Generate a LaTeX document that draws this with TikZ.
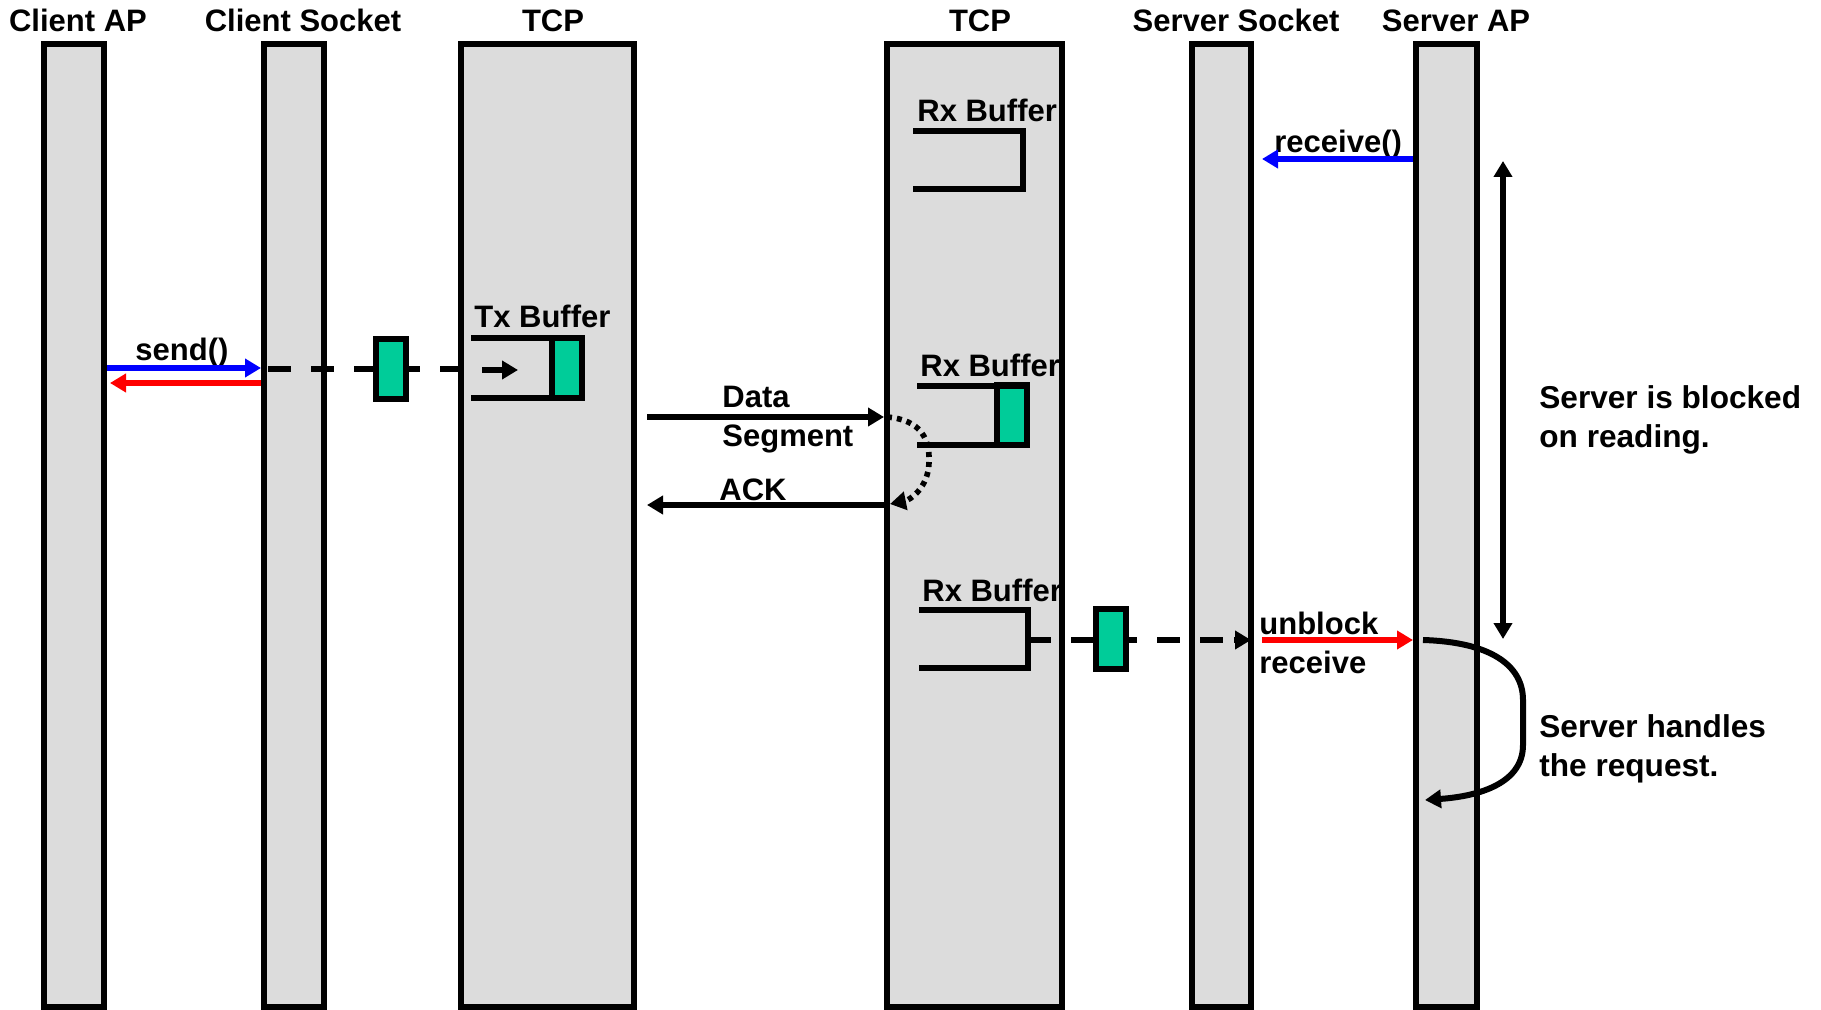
\documentclass[tikz,border=0pt]{standalone}
\usepackage{fontspec}
\setmainfont{Liberation Sans}
\usetikzlibrary{arrows.meta}
\definecolor{barfill}{RGB}{220,220,220}
\definecolor{pkt}{RGB}{0,204,153}
\definecolor{myblue}{RGB}{0,0,255}
\definecolor{myred}{RGB}{255,0,0}
\begin{document}
\begin{tikzpicture}[x=0.5pt,y=-0.5pt,
  bar/.style={draw=black,line width=3pt,fill=barfill,inner sep=0pt,minimum height=481.5pt},
  lbl/.style={font=\fontsize{15.5}{19.5}\selectfont\bfseries,inner sep=0pt,anchor=base west,align=left},
  hdr/.style={font=\fontsize{15.5}{19.5}\selectfont\bfseries,inner sep=0pt,anchor=base},
  buf/.style={line width=3pt,line join=miter},
  pktbox/.style={draw=black,fill=pkt,line width=3pt,inner sep=0pt,minimum width=15pt,minimum height=30pt},
  arr/.style={line width=2.8pt,-{Triangle[length=8pt,width=9pt]}},
  dsh/.style={line width=2.8pt,dash pattern=on 11.5pt off 10pt},
  dotarc/.style={line width=2.8pt,dash pattern=on 2.5pt off 2.5pt,-{Triangle[length=8pt,width=9pt]}},
]
\useasboundingbox (0,0) rectangle (1821,1010);

% lifelines
\node[bar,minimum width=30pt]   (cap)   at (74,525.5) {};
\node[bar,minimum width=30pt]   (csock) at (294,525.5) {};
\node[bar,minimum width=86.5pt] (tcpa)  at (547.5,525.5) {};
\node[bar,minimum width=87.5pt] (tcpb)  at (974.5,525.5) {};
\node[bar,minimum width=29.5pt] (ssock) at (1221.5,525.5) {};
\node[bar,minimum width=30.5pt] (sap)   at (1446.5,525.5) {};

% headers
\node[hdr] (hcap)   at (78,32)   {Client AP};
\node[hdr] (hcsock) at (303,32)  {Client Socket};
\node[hdr] (htcpa)  at (553,32)  {TCP};
\node[hdr] (htcpb)  at (980,32)  {TCP};
\node[hdr] (hssock) at (1236,32) {Server Socket};
\node[hdr] (hsap)   at (1456,32) {Server AP};

% buffer labels (clipped to the TCP bars)
\begin{scope}
  \clip ([shift={(3pt,-3pt)}]tcpa.north west) rectangle ([shift={(-3pt,3pt)}]tcpa.south east);
  \node[lbl] (ltx) at (474,328) {Tx Buffer};
\end{scope}
\begin{scope}
  \clip ([shift={(3pt,-3pt)}]tcpb.north west) rectangle ([shift={(-3pt,3pt)}]tcpb.south east);
  \node[lbl] (lrx1) at (917,122) {Rx Buffer};
  \node[lbl] (lrx2) at (920,377) {Rx Buffer};
  \node[lbl] (lrx3) at (922,601) {Rx Buffer};
\end{scope}

% client side: send()
\node[lbl] (lsend) at (135,361) {send()};
\draw[arr,myblue] (cap.east |- 0,368) -- (csock.west |- 0,368);
\draw[arr,myred] (csock.west |- 0,383) -- ([xshift=1.5pt]cap.east |- 0,383);

% dashed path client socket -> TCP
\coordinate (d1s) at (268,369);
\draw[dsh] (d1s) -- (tcpa.west |- d1s);
\node[pktbox] (p1) at (390.5,369) {};

% Tx buffer
\node[pktbox] (ptx) at (566.5,368) {};
\draw[buf] (471,338) -- (582,338) -- (582,398) -- (471,398);
\coordinate (txa) at (482,370);
\coordinate (txb) at (518,370);
\draw[arr] (txa) -- (txb);

% Rx buffer 1
\draw[buf] (913,131) -- (1023,131) -- (1023,189) -- (913,189);

% Rx buffer 2
\node[pktbox] (prx2) at (1012,415.5) {};
\draw[buf] (917,386) -- (1027,386) -- (1027,445) -- (917,445);

% Rx buffer 3
\draw[buf] (919,610) -- (1028,610) -- (1028,668) -- (919,668);

% data segment / ACK
\coordinate (dsa) at (647,417);
\draw[arr] (dsa) -- (tcpb.west |- dsa);
\coordinate (acka) at (647,505);
\draw[arr] (tcpb.west |- acka) -- (acka);
\node[lbl] (ldata) at (722,447) {Data\\Segment};
\node[lbl] (lack)  at (719,501) {ACK};
\coordinate (arcs) at (887,417);
\coordinate (arce) at (890,504);
\draw[dotarc] (arcs) .. controls (922,420) and (930,440) .. (929,463)
  .. controls (928,488) and (910,500) .. (arce);

% dashed path Rx buffer 3 -> server socket
\coordinate (d2s) at (1028,640);
\coordinate (d2e) at (1238,640);
\draw[dsh] (d2s) -- (d2e);
\draw[arr] ([xshift=-2pt]d2e) -- ([xshift=-1.5pt]ssock.east |- d2e);
\node[pktbox] (p2) at (1111,639) {};

% server side: receive()
\node[lbl] (lrecv) at (1274,153) {receive()};
\draw[arr,myblue] (sap.west |- 0,159) -- ([xshift=4pt]ssock.east |- 0,159);

% unblock receive
\node[lbl] (lunb) at (1259,673) {unblock\\receive};
\draw[arr,myred] ([xshift=4pt]ssock.east |- 0,640) -- (sap.west |- 0,640);

% blocked interval
\coordinate (bt) at (1503,161);
\coordinate (bb) at (1503,639);
\draw[line width=2.8pt,{Triangle[length=8pt,width=9pt]}-{Triangle[length=8pt,width=9pt]}] (bt) -- (bb);
\node[lbl,font=\fontsize{15.8}{19.5}\selectfont\bfseries] (lblk) at (1539,448) {Server is blocked\\on reading.};

% server handles
\coordinate (hs) at (1423,640);
\coordinate (he) at (1425,800);
\draw[arr,line width=3pt] (hs) .. controls (1490,642) and (1523,665) .. (1523,700)
  -- (1523,745) .. controls (1523,782) and (1482,796) .. (he);
\node[lbl,font=\fontsize{15.8}{19.5}\selectfont\bfseries] (lhand) at (1539,776) {Server handles\\the request.};
\end{tikzpicture}
\end{document}
